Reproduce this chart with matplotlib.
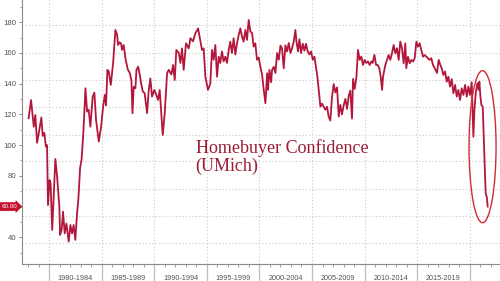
import matplotlib
matplotlib.use("Agg")
import matplotlib.pyplot as plt
from matplotlib.patches import Ellipse
from matplotlib.ticker import MultipleLocator
import matplotlib.transforms as mtransforms

# ---- data (decimal year, index value) ----
dates = [
    1978.06, 1978.29, 1978.40, 1978.55, 1978.70, 1978.86, 1979.02, 1979.27, 1979.40, 1979.55,
    1979.70, 1979.81, 1979.90, 1980.05, 1980.15, 1980.30, 1980.60, 1980.76, 1980.98, 1981.05,
    1981.20, 1981.33, 1981.49, 1981.65, 1981.87, 1982.03, 1982.19, 1982.34, 1982.50, 1982.66,
    1982.80, 1982.95, 1983.10, 1983.25, 1983.39, 1983.46, 1983.62, 1983.77, 1983.93, 1984.15,
    1984.31, 1984.47, 1984.73, 1984.95, 1985.14, 1985.30, 1985.42, 1985.55, 1985.68, 1985.87,
    1986.09, 1986.31, 1986.47, 1986.56, 1986.72, 1986.85, 1986.94, 1987.10, 1987.26, 1987.48,
    1987.67, 1987.83, 1987.93, 1988.05, 1988.21, 1988.31, 1988.47, 1988.62, 1988.78, 1988.91,
    1989.09, 1989.32, 1989.47, 1989.63, 1989.79, 1990.01, 1990.20, 1990.36, 1990.52, 1990.81,
    1991.00, 1991.22, 1991.38, 1991.63, 1991.79, 1991.95, 1992.10, 1992.33, 1992.49, 1992.64,
    1992.80, 1993.02, 1993.28, 1993.44, 1993.69, 1993.91, 1994.17, 1994.39, 1994.54, 1994.70,
    1994.86, 1995.11, 1995.33, 1995.49, 1995.65, 1995.81, 1995.97, 1996.13, 1996.28, 1996.44,
    1996.60, 1996.76, 1996.92, 1997.08, 1997.23, 1997.39, 1997.55, 1997.71, 1997.87, 1998.03,
    1998.19, 1998.34, 1998.50, 1998.66, 1998.82, 1998.98, 1999.14, 1999.30, 1999.45, 1999.61,
    1999.77, 1999.93, 2000.09, 2000.25, 2000.41, 2000.57, 2000.73, 2000.82, 2000.95, 2001.11,
    2001.20, 2001.36, 2001.52, 2001.68, 2001.84, 2002.00, 2002.15, 2002.31, 2002.47, 2002.63,
    2002.79, 2002.95, 2003.10, 2003.26, 2003.42, 2003.52, 2003.67, 2003.80, 2003.96, 2004.12,
    2004.28, 2004.43, 2004.59, 2004.75, 2004.91, 2005.07, 2005.23, 2005.39, 2005.51, 2005.64,
    2005.80, 2005.96, 2006.11, 2006.27, 2006.43, 2006.58, 2006.74, 2006.90, 2007.06, 2007.22,
    2007.38, 2007.54, 2007.69, 2007.85, 2008.01, 2008.17, 2008.33, 2008.49, 2008.64, 2008.80,
    2008.90, 2009.06, 2009.22, 2009.37, 2009.53, 2009.69, 2009.85, 2010.01, 2010.17, 2010.32,
    2010.48, 2010.64, 2010.77, 2010.93, 2011.09, 2011.24, 2011.40, 2011.53, 2011.66, 2011.75,
    2011.97, 2012.13, 2012.28, 2012.44, 2012.60, 2012.76, 2012.92, 2013.08, 2013.24, 2013.39,
    2013.55, 2013.71, 2013.87, 2013.96, 2014.12, 2014.28, 2014.44, 2014.60, 2014.76, 2014.92,
    2015.07, 2015.23, 2015.39, 2015.55, 2015.71, 2015.87, 2016.02, 2016.18, 2016.34, 2016.50,
    2016.66, 2016.88, 2017.04, 2017.20, 2017.33, 2017.49, 2017.65, 2017.80, 2017.96, 2018.12,
    2018.28, 2018.44, 2018.60, 2018.76, 2018.91, 2019.07, 2019.23, 2019.39, 2019.55, 2019.71,
    2019.86, 2020.02, 2020.18, 2020.34, 2020.44, 2020.56, 2020.72, 2020.85, 2020.91, 2021.01,
    2021.10, 2021.23, 2021.32, 2021.42, 2021.51, 2021.61, 2021.70,
]
values = [
    117.5, 129.4, 121.9, 112.0, 119.6, 101.5, 107.7, 118.0, 106.0, 108.0,
    99.0, 100.0, 61.0, 77.3, 75.0, 44.8, 91.0, 80.0, 60.0, 41.5,
    44.8, 56.7, 42.5, 49.0, 37.2, 48.0, 42.5, 48.0, 38.3, 55.0,
    66.0, 85.0, 91.0, 107.0, 126.0, 137.0, 121.8, 123.0, 112.0, 131.6,
    134.2, 116.4, 102.3, 112.0, 125.0, 132.7, 126.0, 149.0, 148.0, 139.2,
    153.3, 175.0, 172.0, 165.2, 167.0, 166.0, 162.0, 165.2, 156.6, 149.4,
    147.0, 142.4, 120.8, 138.0, 137.0, 149.0, 151.1, 146.0, 139.2, 135.0,
    133.8, 120.8, 135.0, 143.5, 131.6, 136.0, 132.7, 129.4, 136.0, 106.6,
    120.8, 146.8, 149.0, 146.0, 152.2, 142.4, 162.0, 160.0, 153.5, 163.0,
    149.0, 166.3, 163.0, 169.6, 167.6, 172.8, 176.0, 167.6, 162.0, 163.0,
    144.6, 136.0, 140.0, 162.0, 155.6, 165.2, 144.6, 157.6, 153.5, 161.0,
    154.5, 157.6, 153.5, 162.0, 167.4, 160.0, 169.6, 159.0, 166.3, 171.7,
    176.0, 170.7, 167.4, 175.0, 168.5, 181.5, 174.0, 173.0, 164.2, 166.3,
    155.6, 157.0, 151.1, 146.0, 136.0, 127.3, 146.8, 136.0, 149.0, 141.0,
    149.0, 151.0, 147.0, 160.0, 155.6, 164.8, 163.0, 150.0, 165.0, 161.0,
    166.5, 160.0, 163.0, 167.4, 175.0, 167.4, 161.0, 169.0, 160.0, 166.0,
    161.5, 166.0, 161.0, 159.0, 161.0, 155.6, 157.6, 150.0, 144.6, 136.0,
    125.0, 127.0, 125.0, 123.1, 125.0, 118.6, 116.0, 131.2, 139.8, 134.3,
    137.6, 118.6, 126.2, 120.0, 126.0, 130.1, 123.6, 132.2, 135.5, 117.3,
    143.1, 136.6, 144.2, 162.0, 155.5, 157.7, 152.2, 155.5, 153.5, 154.5,
    152.2, 154.5, 153.5, 158.8, 152.2, 152.2, 150.0, 144.6, 135.9, 144.6,
    152.2, 155.5, 158.7, 155.5, 159.8, 165.2, 159.8, 163.1, 155.5, 167.4,
    163.1, 153.3, 166.3, 150.1, 157.6, 153.3, 155.5, 154.4, 156.6, 167.4,
    164.1, 166.3, 162.0, 157.6, 158.7, 157.6, 156.6, 155.5, 156.6, 152.2,
    150.1, 147.0, 155.5, 152.2, 150.0, 145.7, 148.0, 141.3, 144.6, 138.1,
    143.0, 133.8, 139.2, 131.6, 135.9, 129.4, 137.0, 132.7, 139.2, 131.6,
    138.1, 132.7, 141.0, 105.5, 122.9, 133.8, 140.3, 135.9, 141.3, 131.6,
    126.2, 125.0, 105.5, 86.0, 68.6, 66.4, 60.0,
]
y_ticks = [40, 60, 80, 100, 120, 140, 160, 180]
period_starts = [1980, 1985, 1990, 1995, 2000, 2005, 2010, 2015, 2020]
period_labels = ["1980-1984", "1985-1989", "1990-1994", "1995-1999",
                 "2000-2004", "2005-2009", "2010-2014", "2015-2019"]
grid_levels = [36.1, 53.9, 71.7, 89.5, 106.8, 124.7, 142.4, 160.2, 178.0]
title_text = "Homebuyer Confidence\n(UMich)"

LINE = "#b3173b"
GRID = "#c9c9c9"
AX = "#8a8a8a"
TXT = "#555555"

fig = plt.figure(figsize=(5.0, 2.81), dpi=100)
ax = fig.add_axes([0.044, 0.0594, 0.956, 0.9406])
ax.set_xlim(1977.43, 2022.87)
ax.set_ylim(22.4, 194.5)

# grid
for g in grid_levels:
    ax.axhline(g, color=GRID, lw=0.8, ls=(0, (1, 2)), zorder=0)
for p in period_starts:
    ax.axvline(p, color=GRID, lw=0.8, ls=(0, (1, 2)), zorder=0)

ax.plot(dates, values, color=LINE, lw=1.3, zorder=3, solid_joinstyle="round")

# spines
for s in ["top", "right"]:
    ax.spines[s].set_visible(False)
for s in ["left", "bottom"]:
    ax.spines[s].set_color(AX)
    ax.spines[s].set_linewidth(0.8)

# y axis (the label at the last value is covered by the value tag)
last_val = values[-1]
ax.set_yticks(y_ticks)
ax.set_yticklabels(["" if abs(v - last_val) < 5 else str(v) for v in y_ticks])
ax.yaxis.set_minor_locator(MultipleLocator(10))
ax.tick_params(axis="y", which="major", length=2.5, width=0.7, color=AX,
               labelsize=5.6, labelcolor=TXT, pad=1.5)
ax.tick_params(axis="y", which="minor", length=1.5, width=0.6, color=AX)
for lab in ax.get_yticklabels():
    lab.set_fontfamily("Liberation Sans")

# x axis: long separators at period starts, small yearly ticks
ax.set_xticks(period_starts)
ax.set_xticklabels([])
ax.xaxis.set_minor_locator(MultipleLocator(1))
ax.tick_params(axis="x", which="major", length=13, width=0.9, color="#bdbdbd")
ax.tick_params(axis="x", which="minor", length=2, width=0.6, color=AX)

trans = mtransforms.blended_transform_factory(ax.transData, ax.transAxes)
for start, lab in zip(period_starts[:-1], period_labels):
    ax.text(start + 2.5, -0.052, lab, transform=trans, ha="center", va="center",
            fontsize=5.2, color=TXT, family="Liberation Sans")

# title text
ax.text(0.363, 0.475, title_text, transform=ax.transAxes, ha="left", va="top",
        fontsize=13, color="#9b1d33", family="Liberation Serif", linespacing=1.1)

# last value tag
ax.annotate(f"{last_val:.2f}", xy=(0, last_val),
            xycoords=("axes fraction", "data"), xytext=(-3.4, 0),
            textcoords="offset points", ha="right", va="center",
            color="white", fontsize=4.5, family="Liberation Sans",
            bbox=dict(boxstyle="rarrow,pad=0.3", fc="#c4122f", ec="none"),
            annotation_clip=False)

# ellipse highlight
ell = Ellipse((2021.21, 99.0), 2.57, 99.0, fill=False, ec="#d42a35", lw=1.0,
              zorder=4, clip_on=False)
ax.add_patch(ell)

fig.savefig("out.png", dpi=100, facecolor="white")
